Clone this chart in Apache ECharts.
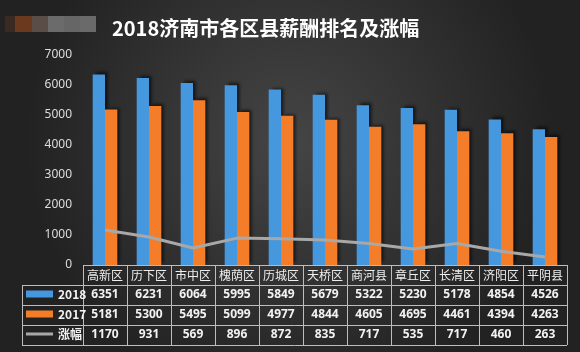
<!DOCTYPE html>
<html>
<head>
<meta charset="utf-8">
<script src="https://cdn.jsdelivr.net/npm/echarts@6/dist/echarts.min.js"></script>
<style>
  html, body { margin: 0; padding: 0; background: #2a2a2a; }
  #chart { width: 580px; height: 352px; }
</style>
</head>
<body>
<div id="chart"></div>
<script>
// 区县
var districts = ['高新区', '历下区', '市中区', '槐荫区', '历城区', '天桥区', '商河县', '章丘区', '长清区', '济阳区', '平阴县']
// 薪酬
var salary2018 = [6351, 6231, 6064, 5995, 5849, 5679, 5322, 5230, 5178, 4854, 4526]
var salary2017 = [5181, 5300, 5495, 5099, 4977, 4844, 4605, 4695, 4461, 4394, 4263]
// 涨幅
var growth = [1170, 931, 569, 896, 872, 835, 717, 535, 717, 460, 263]
var yTicks = [0, 1000, 2000, 3000, 4000, 5000, 6000, 7000]

var chart = echarts.init(document.getElementById('chart'))

// 表格布局
var gridLeft = 83
var gridRight = 13
var gridTop = 55
var gridBottom = 87
var colW = (580 - gridLeft - gridRight) / districts.length
var tableTop = 352 - gridBottom
var rowH = 20
var legendLeft = 22
var tableRight = 580 - gridRight

var tableLines = []
var lineStyle = { stroke: '#bdbdbd', lineWidth: 1 }
// 横线
tableLines.push({ type: 'line', shape: { x1: gridLeft, y1: tableTop + 0.5, x2: tableRight, y2: tableTop + 0.5 }, style: lineStyle, silent: true })
for (var r = 1; r <= 4; r++) {
  var y = Math.round(tableTop + r * rowH) + 0.5
  tableLines.push({ type: 'line', shape: { x1: legendLeft, y1: y, x2: tableRight, y2: y }, style: lineStyle, silent: true })
}
// 竖线
tableLines.push({ type: 'line', shape: { x1: legendLeft + 0.5, y1: tableTop + rowH, x2: legendLeft + 0.5, y2: tableTop + 4 * rowH }, style: lineStyle, silent: true })
for (var c = 0; c <= districts.length; c++) {
  var x = Math.round(gridLeft + c * colW) + 0.5
  tableLines.push({ type: 'line', shape: { x1: x, y1: tableTop, x2: x, y2: tableTop + 4 * rowH }, style: lineStyle, silent: true })
}

// 左上角模糊水印
var marks = [['#3a2a22', 5, 10], ['#6b3a1e', 15, 17], ['#5a4d48', 32, 16], ['#6b6b6b', 48, 16], ['#666666', 64, 16], ['#6a6a6a', 80, 16]]
marks.forEach(function (m) {
  tableLines.push({ type: 'rect', shape: { x: m[1], y: 16, width: m[2], height: 16 }, style: { fill: m[0] }, silent: true })
})

function rowAxis(values, offset) {
  return {
    type: 'category',
    gridIndex: 0,
    position: 'bottom',
    offset: offset,
    data: values.map(String),
    axisLine: { show: false },
    axisTick: { show: false },
    axisLabel: {
      interval: 0,
      margin: 10,
      verticalAlign: 'middle',
      color: '#f2f2f2',
      fontSize: 12,
      fontWeight: 'bold',
      fontFamily: 'Noto Sans'
    }
  }
}

function rowLegend(name, icon, top) {
  return {
    data: [{ name: name, icon: icon }],
    left: 26,
    top: top,
    padding: 0,
    itemWidth: 27,
    itemHeight: 7,
    itemGap: 4,
    selectedMode: false,
    textStyle: { color: '#f2f2f2', fontSize: 12, fontWeight: 'bold', fontFamily: 'Noto Sans CJK SC' }
  }
}

chart.setOption({
  backgroundColor: {
    type: 'radial',
    x: 0.5,
    y: 0.4,
    r: 0.75,
    colorStops: [
      { offset: 0, color: '#454545' },
      { offset: 1, color: '#222222' }
    ]
  },
  title: {
    text: '2018济南市各区县薪酬排名及涨幅',
    left: 107,
    top: 13,
    textStyle: { color: '#ffffff', fontSize: 20, fontWeight: 'bold', fontFamily: 'Noto Sans CJK SC' }
  },
  legend: [
    rowLegend('2018', 'rect', tableTop + rowH * 1.5 - 7),
    rowLegend('2017', 'rect', tableTop + rowH * 2.5 - 7),
    rowLegend('涨幅', 'path://M0,0 L27,0 L27,3 L0,3 Z', tableTop + rowH * 3.5 - 7)
  ],
  grid: { left: gridLeft, right: gridRight, top: gridTop, bottom: gridBottom },
  xAxis: [
    {
      type: 'category',
      data: districts,
      axisLine: { show: false },
      axisTick: { show: false },
      axisLabel: {
        interval: 0,
        margin: 10,
        verticalAlign: 'middle',
        color: '#eeeeee',
        fontSize: 12,
        fontFamily: 'Noto Sans CJK SC'
      }
    },
    rowAxis(salary2018, rowH),
    rowAxis(salary2017, rowH * 2),
    rowAxis(growth, rowH * 3)
  ],
  yAxis: {
    type: 'value',
    min: yTicks[0],
    max: yTicks[yTicks.length - 1],
    interval: 1000,
    splitLine: { show: false },
    axisLine: { show: false },
    axisTick: { show: false },
    axisLabel: {
      color: '#dddddd',
      fontSize: 12,
      margin: 11,
      fontFamily: 'Noto Sans',
      formatter: function (v) { return String(v) }
    }
  },
  series: [
    {
      name: '2018',
      type: 'bar',
      data: salary2018,
      barWidth: '28%',
      barGap: '0%',
      itemStyle: {
        color: '#4597de',
        shadowColor: 'rgba(0, 0, 0, 0.6)',
        shadowBlur: 3,
        shadowOffsetX: 3,
        shadowOffsetY: -2
      }
    },
    {
      name: '2017',
      type: 'bar',
      data: salary2017,
      barWidth: '28%',
      itemStyle: {
        color: '#f47d2a',
        shadowColor: 'rgba(0, 0, 0, 0.6)',
        shadowBlur: 3,
        shadowOffsetX: 3,
        shadowOffsetY: -2
      }
    },
    {
      name: '涨幅',
      type: 'line',
      data: growth,
      symbol: 'none',
      itemStyle: { color: '#a8a8a8' },
      lineStyle: { color: '#a8a8a8', width: 3 }
    }
  ],
  graphic: tableLines
})
</script>
</body>
</html>
